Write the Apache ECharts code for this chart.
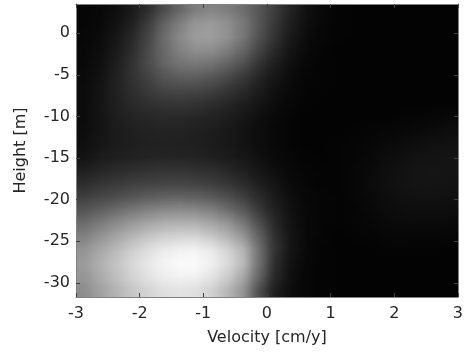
<!DOCTYPE html>
<html><head><meta charset="utf-8">
<script src="https://cdn.jsdelivr.net/npm/echarts@6/dist/echarts.min.js"></script>
<style>html,body{margin:0;padding:0;background:#fff}#c{width:466px;height:353px}</style>
</head><body><div id="c"></div>
<script>
// Cell centres
const velocity = [-2.875,-2.625,-2.375,-2.125,-1.875,-1.625,-1.375,-1.125,-0.875,-0.625,-0.375,-0.125,
                  0.125,0.375,0.625,0.875,1.125,1.375,1.625,1.875,2.125,2.375,2.625,2.875];
const height = [2.7,1.1,-0.5,-2.1,-3.7,-5.3,-6.9,-8.5,-10.1,-11.7,-13.3,-14.9,-16.5,-18.1,-19.7,-21.3,-22.9,-24.5,-26.1,-27.7,-29.3,-30.9];
// Grey level (0 = black, 255 = white), one row per height, one column per velocity
const intensity = [
 [6,8,14,24,44,75,102,126,133,126,110,86,60,34,16,8,4,3,3,3,3,3,3,3],
 [6,9,17,32,58,96,126,148,154,143,120,86,55,30,14,7,4,3,3,3,3,3,3,3],
 [7,11,22,40,68,106,136,156,158,144,118,81,50,25,11,6,4,3,3,3,3,3,3,3],
 [8,13,25,44,72,104,128,142,141,126,102,68,40,20,9,5,3,3,3,3,3,3,3,3],
 [9,15,29,49,74,100,116,120,115,100,80,52,30,15,7,4,3,3,3,3,3,3,3,3],
 [10,17,32,49,66,84,93,94,87,74,57,37,22,11,5,4,3,3,3,3,3,3,3,3],
 [11,19,32,46,58,68,72,70,64,54,42,28,16,9,5,4,3,3,3,3,3,3,3,3],
 [11,20,31,41,48,52,53,51,46,39,30,20,12,7,4,3,3,3,3,3,3,3,3,3],
 [11,20,29,35,39,41,41,39,35,29,23,15,9,5,3,3,3,3,3,3,4,5,6,7],
 [12,20,27,31,34,35,34,32,29,24,19,13,8,5,3,3,3,4,5,6,7,9,11,13],
 [14,21,27,30,32,33,32,31,28,24,19,13,8,5,3,3,4,5,6,9,11,14,16,17],
 [19,26,30,33,35,36,35,34,31,27,22,16,10,6,4,3,4,5,8,12,15,18,19,20],
 [30,37,42,46,49,51,51,49,45,39,31,21,13,8,5,4,4,6,9,14,17,20,21,20],
 [44,51,57,62,65,68,68,66,61,53,43,30,19,10,6,4,4,6,10,15,18,20,20,19],
 [62,69,76,84,91,96,97,95,89,78,62,43,26,14,7,5,4,6,9,13,16,17,17,16],
 [84,95,106,119,129,136,139,136,127,110,88,56,32,16,8,5,4,5,8,11,13,14,14,13],
 [108,123,138,153,165,174,177,176,165,148,120,78,40,18,8,5,4,5,6,9,10,10,10,9],
 [129,146,164,181,196,207,212,212,200,180,150,98,48,20,8,5,3,4,5,6,7,6,6,5],
 [147,166,185,205,221,234,241,243,233,212,180,112,50,20,8,4,3,3,3,4,4,4,4,3],
 [155,175,195,215,231,244,250,250,240,220,185,112,45,17,7,4,3,3,3,3,3,3,3,3],
 [150,170,190,210,226,237,242,241,228,205,168,100,40,16,6,4,3,3,3,3,3,3,3,3],
 [140,160,179,198,212,223,227,224,210,184,148,78,30,13,6,4,3,3,3,3,3,3,3,3]
];
const yTickValues = [-30,-25,-20,-15,-10,-5,0];
const xName = 'Velocity [cm/y]';
const yName = 'Height [m]';

const nR = height.length, nC = velocity.length;
const dv = velocity[1] - velocity[0];
const dh = height[0] - height[1];
const data = [];
height.forEach((h, r) => velocity.forEach((v, c) => data.push([v, h, intensity[r][c], r, c])));

// value of cell (clamped at borders)
function cell(r, c) {
  r = Math.max(0, Math.min(nR - 1, r));
  c = Math.max(0, Math.min(nC - 1, c));
  return intensity[r][c];
}
// 3x3 shading nodes around a cell (corners, edge mids, centre) for smooth rendering
function nodes(r, c) {
  const out = [];
  for (let i = -1; i <= 1; i++) {
    const row = [];
    for (let j = -1; j <= 1; j++) {
      let s = 0, n = 0;
      for (const a of (i ? [r, r + i] : [r])) for (const b of (j ? [c, c + j] : [c])) { s += cell(a, b); n++; }
      row.push(s / n);
    }
    out.push(row);
  }
  return out;
}
function lerp(a, b, t) { return a + (b - a) * t; }
function grey(g) { g = Math.round(Math.max(0, Math.min(255, g))); return 'rgb(' + g + ',' + g + ',' + g + ')'; }
const STRIPS = 6;

const font = 'DejaVu Sans';
const txt = '#262626';
const lineC = '#808080';
const tickC = '#404040';

const chart = echarts.init(document.getElementById('c'), null, {renderer: 'canvas'});
chart.setOption({
  animation: false,
  backgroundColor: '#fff',
  grid: {left: 76, right: 7, top: 4, bottom: 56, show: true, backgroundColor: '#030303', borderWidth: 0},
  xAxis: [{
    type: 'value', min: -3, max: 3, interval: 1, position: 'bottom', z: 5,
    name: xName, nameLocation: 'middle', nameGap: 33,
    nameTextStyle: {fontFamily: font, fontSize: 16, color: txt},
    axisLine: {show: true, onZero: false, lineStyle: {color: lineC, width: 1}},
    axisTick: {show: true, inside: true, length: 4, lineStyle: {color: tickC}},
    axisLabel: {fontFamily: font, fontSize: 16, color: txt, margin: 9},
    splitLine: {show: false}
  }, {
    type: 'value', min: -3, max: 3, interval: 1, position: 'top', z: 5,
    axisLine: {show: true, onZero: false, lineStyle: {color: lineC, width: 1}},
    axisTick: {show: true, inside: true, length: 4, lineStyle: {color: tickC}},
    axisLabel: {show: false}, splitLine: {show: false}
  }],
  yAxis: [{
    type: 'value', min: -31.7, max: 3.5, position: 'left', z: 5,
    name: yName, nameLocation: 'middle', nameGap: 47, nameRotate: 90,
    nameTextStyle: {fontFamily: font, fontSize: 16, color: txt},
    axisLine: {show: true, onZero: false, lineStyle: {color: lineC, width: 1}},
    axisTick: {show: true, inside: true, length: 4, lineStyle: {color: tickC}, customValues: yTickValues},
    axisLabel: {fontFamily: font, fontSize: 16, color: txt, margin: 6, customValues: yTickValues},
    splitLine: {show: false}
  }, {
    type: 'value', min: -31.7, max: 3.5, position: 'right', z: 5,
    axisLine: {show: true, onZero: false, lineStyle: {color: lineC, width: 1}},
    axisTick: {show: true, inside: true, length: 4, lineStyle: {color: tickC}, customValues: yTickValues},
    axisLabel: {show: false, customValues: yTickValues}, splitLine: {show: false}
  }],
  series: [{
    type: 'custom',
    xAxisIndex: 0, yAxisIndex: 0,
    coordinateSystem: 'cartesian2d',
    clip: true, z: 1,
    data: data,
    renderItem: function (params, api) {
      const v = api.value(0), h = api.value(1);
      const r = api.value(3), c = api.value(4);
      const p1 = api.coord([v - dv / 2, h + dh / 2]);
      const p2 = api.coord([v + dv / 2, h - dh / 2]);
      const w = p2[0] - p1[0], ht = p2[1] - p1[1];
      const N = nodes(r, c);
      const children = [];
      for (let k = 0; k < STRIPS; k++) {
        const tm = (k + 0.5) / STRIPS;
        const col = [0, 1, 2].map(j => tm < 0.5 ? lerp(N[0][j], N[1][j], tm * 2) : lerp(N[1][j], N[2][j], (tm - 0.5) * 2));
        children.push({
          type: 'rect',
          shape: {x: p1[0] - 0.5, y: p1[1] + ht * k / STRIPS - 0.5, width: w + 1, height: ht / STRIPS + 1},
          style: {fill: new echarts.graphic.LinearGradient(0, 0, 1, 0, [
            {offset: 0, color: grey(col[0])}, {offset: 0.5, color: grey(col[1])}, {offset: 1, color: grey(col[2])}
          ])}
        });
      }
      return {type: 'group', children: children};
    }
  }]
});
</script>
</body></html>
